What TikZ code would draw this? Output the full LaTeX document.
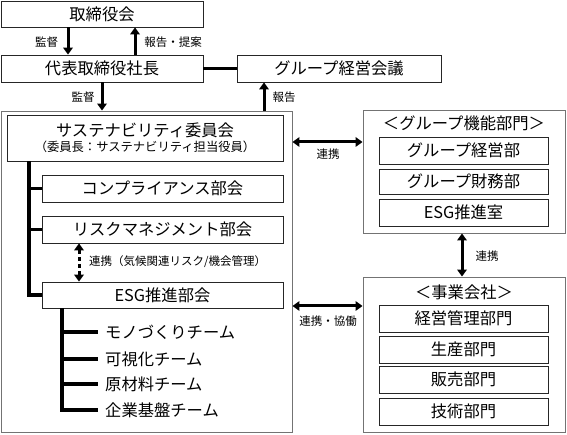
\documentclass[tikz,border=0pt]{standalone}
\usepackage{fontspec}
\setmainfont{Noto Sans CJK JP}
\usetikzlibrary{arrows.meta,calc}
\begin{document}
\begin{tikzpicture}[x=1pt,y=-1pt,
  big/.style={font=\fontsize{16.3}{17}\selectfont},
  small/.style={font=\fontsize{11.5}{12}\selectfont},
  ibox/.style={draw=black!85,line width=0.8pt,fill=white,inner sep=0pt,big},
  obox/.style={draw=black!55,line width=0.9pt,fill=white,inner sep=0pt},
  arr/.style={line width=3pt,-{Triangle[length=7pt,width=9.5pt]}},
  darr/.style={line width=3pt,{Triangle[length=7pt,width=9.5pt]}-{Triangle[length=7pt,width=9.5pt]}},
  tree/.style={line width=3.2pt},
  lbl/.style={small,inner sep=0pt}
]
\useasboundingbox (0,0) rectangle (567,435);
% top boxes
\node[ibox,minimum width=202pt,minimum height=26pt] (bod) at (102,14) {取締役会};
\node[ibox,minimum width=202pt,minimum height=27pt] (pres) at (102,68.5) {代表取締役社長};
\node[ibox,minimum width=204pt,minimum height=27pt] (gmc) at (339,68.5) {グループ経営会議};
% outer boxes
\node[obox,minimum width=291pt,minimum height=321pt] (lout) at (146.5,271.5) {};
\node[obox,minimum width=202pt,minimum height=123pt] (gfout) at (464,171.5) {};
\node[obox,minimum width=202pt,minimum height=155pt] (bcout) at (464,354.5) {};
% left inner boxes
\node[ibox,minimum width=276pt,minimum height=46pt,align=center] (sus) at (145,138)
  {サステナビリティ委員会\\[-2pt]{\fontsize{12.3}{13}\selectfont （委員長：サステナビリティ担当役員）}};
\node[ibox,minimum width=241pt,minimum height=27pt] (comp) at (162.5,188.5) {コンプライアンス部会};
\node[ibox,minimum width=241pt,minimum height=27pt] (risk) at (162.5,229.5) {リスクマネジメント部会};
\node[ibox,minimum width=241pt,minimum height=26pt] (esg) at (162.5,295) {ESG推進部会};
% teams
\node[big,anchor=west,inner sep=0pt] (t1) at (105,332) {モノづくりチーム};
\node[big,anchor=west,inner sep=0pt] (t2) at (105,359) {可視化チーム};
\node[big,anchor=west,inner sep=0pt] (t3) at (105,384) {原材料チーム};
\node[big,anchor=west,inner sep=0pt] (t4) at (105,410) {企業基盤チーム};
% right groups
\node[big,inner sep=0pt] (gft) at (464,123) {＜グループ機能部門＞};
\node[ibox,minimum width=169pt,minimum height=27pt] (gm) at (463.5,150.5) {グループ経営部};
\node[ibox,minimum width=169pt,minimum height=25pt] (gfin) at (463.5,181.5) {グループ財務部};
\node[ibox,minimum width=169pt,minimum height=27pt] (esgr) at (463.5,212.5) {ESG推進室};
\node[big,inner sep=0pt] (bct) at (464,292) {＜事業会社＞};
\node[ibox,minimum width=169pt,minimum height=27pt] (bc1) at (463.5,318.5) {経営管理部門};
\node[ibox,minimum width=169pt,minimum height=27pt] (bc2) at (463.5,349.5) {生産部門};
\node[ibox,minimum width=169pt,minimum height=27pt] (bc3) at (463.5,379.5) {販売部門};
\node[ibox,minimum width=169pt,minimum height=27pt] (bc4) at (463.5,411.5) {技術部門};
% helper coordinates
\coordinate (xa) at (68,0);
\coordinate (xb) at (135,0);
\coordinate (xc) at (102,0);
\coordinate (xd) at (264,0);
\coordinate (xe) at (462,0);
\coordinate (xf) at (79,0);
\coordinate (xt) at (29,0);
\coordinate (xu) at (62,0);
\coordinate (xs) at (98,0);
\coordinate (ya) at (0,142);
\coordinate (yb) at (0,306);
% connectors top
\draw[arr] (bod.south -| xa) -- (pres.north -| xa);
\draw[arr] (pres.north -| xb) -- (bod.south -| xb);
\draw[line width=3pt] (pres.east) -- (gmc.west);
\draw[arr] (pres.south -| xc) -- (lout.north -| xc);
\draw[arr] (lout.north -| xd) -- (gmc.south -| xd);
\node[lbl] (l1) at (46.5,42) {監督};
\node[lbl] (l2) at (173,42) {報告・提案};
\node[lbl] (l3) at (83,97) {監督};
\node[lbl] (l4) at (284,97) {報告};
% horizontal links
\draw[darr] (lout.east |- ya) -- (gfout.west |- ya);
\node[lbl] (l5) at (328,154) {連携};
\draw[darr] (lout.east |- yb) -- (bcout.west |- yb);
\node[lbl] (l6) at (328,321) {連携・協働};
\draw[darr] (gfout.south -| xe) -- (bcout.north -| xe);
\node[lbl] (l7) at (487,256) {連携};
% committee tree
\draw[tree] (sus.south -| xt) -- (esg.west -| xt) -- (esg.west);
\draw[tree] (comp.west -| xt) -- (comp.west);
\draw[tree] (risk.west -| xt) -- (risk.west);
\draw[line width=3pt,dash pattern=on 4pt off 3pt,{Triangle[length=7pt,width=9.5pt]}-{Triangle[length=7pt,width=9.5pt]}] (risk.south -| xf) -- (esg.north -| xf);
\node[lbl,anchor=west] (l8) at (89,262) {連携（気候関連リスク/機会管理）};
% ESG tree
\draw[tree] (esg.south -| xu) -- (t4.west -| xu) -- (t4.west -| xs);
\draw[tree] (t1.west -| xu) -- (t1.west -| xs);
\draw[tree] (t2.west -| xu) -- (t2.west -| xs);
\draw[tree] (t3.west -| xu) -- (t3.west -| xs);
\end{tikzpicture}
\end{document}
